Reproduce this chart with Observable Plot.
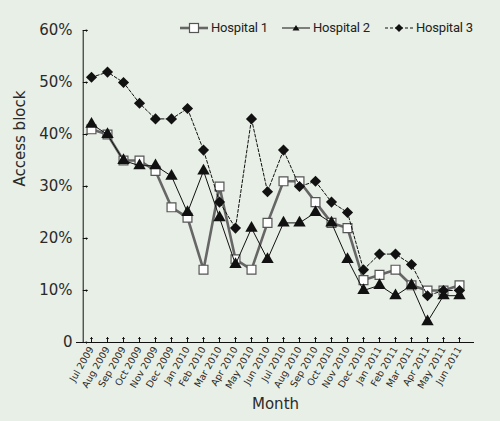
<!DOCTYPE html>
<html>
<head>
<meta charset="utf-8">
<script src="https://cdn.jsdelivr.net/npm/d3@7"></script>
<script src="https://cdn.jsdelivr.net/npm/@observablehq/plot@0.6"></script>
<style>
  html, body { margin: 0; padding: 0; background: #ffffff; }
  #wrap { position: relative; width: 500px; height: 421px; background: #e8efe6; overflow: hidden; }
  #legend { position: absolute; top: 20px; left: 0; width: 500px; height: 18px;
            font-family: "Roboto", sans-serif; font-size: 13px; color: #222; }
  #legend .item { position: absolute; top: 0; display: flex; align-items: center; white-space: nowrap; letter-spacing: -0.2px; }
  #legend svg { margin-right: 3px; }
</style>
</head>
<body>
<div id="wrap">
  <div id="chart"></div>
  <div id="legend"></div>
</div>
<script>
const months = ["Jul 2009","Aug 2009","Sep 2009","Oct 2009","Nov 2009","Dec 2009","Jan 2010","Feb 2010","Mar 2010","Apr 2010","May 2010","Jun 2010","Jul 2010","Aug 2010","Sep 2010","Oct 2010","Nov 2010","Dec 2010","Jan 2011","Feb 2011","Mar 2011","Apr 2011","May 2011","Jun 2011"];
const hospital1 = [41,40,35,35,33,26,24,14,30,16,14,23,31,31,27,23,22,12,13,14,11,10,10,11];
const hospital2 = [42,40,35,34,34,32,25,33,24,15,22,16,23,23,25,23,16,10,11,9,11,4,9,9];
const hospital3 = [51,52,50,46,43,43,45,37,27,22,43,29,37,30,31,27,25,14,17,17,15,9,10,10];
const yTicks = [0,10,20,30,40,50,60];
const seriesNames = ["Hospital 1","Hospital 2","Hospital 3"];

const rows = (vals, name) => months.map((m, i) => ({month: m, value: vals[i], series: name}));
const d1 = rows(hospital1, seriesNames[0]);
const d2 = rows(hospital2, seriesNames[1]);
const d3s = rows(hospital3, seriesNames[2]);

const font = "'DejaVu Sans', sans-serif";

const chart = Plot.plot({
  width: 500,
  height: 421,
  marginLeft: 76,
  marginRight: 26,
  marginTop: 30,
  marginBottom: 79,
  style: {background: "transparent", fontFamily: font, fontSize: "14px", color: "#2a2a2a"},
  x: {type: "point", domain: months, padding: 0.5},
  y: {domain: [0, 60]},
  marks: [
    Plot.axisY({ticks: yTicks, tickSize: 0, tickPadding: 4, tickFormat: d => d === 0 ? "0" : d + "%",
      fontSize: 15, label: null}),
    Plot.text(["Access block"], {frameAnchor: "left", rotate: -90, dx: -56, fontSize: 15, fill: "#2a2a2a"}),
    Plot.axisX({tickSize: 0, tickPadding: 5, tickRotate: -60, fontSize: 9.5, label: null}),
    Plot.text(["Month"], {frameAnchor: "bottom", dy: 66, fontSize: 15, fill: "#2a2a2a"}),
    Plot.ruleX([months[0]], {y1: 0, y2: 60, dx: -8.3, stroke: "#111"}),
    Plot.ruleY([0], {stroke: "#111"}),
    Plot.vector(yTicks, {x: () => months[0], y: d => d, rotate: 90, length: 4, anchor: "start", dx: -8.3, stroke: "#111", strokeWidth: 1}),
    Plot.vector(months, {x: d => d, y: () => 0, rotate: 0, length: 5, anchor: "start", stroke: "#111", strokeWidth: 1}),
    Plot.line(d1, {x: "month", y: "value", stroke: "#666", strokeWidth: 2.6}),
    Plot.dot(d1, {x: "month", y: "value", symbol: "square", r: 5, fill: "white", stroke: "#555", strokeWidth: 1.2}),
    Plot.line(d2, {x: "month", y: "value", stroke: "#111", strokeWidth: 1}),
    Plot.dot(d2, {x: "month", y: "value", symbol: "triangle", r: 4.6, fill: "#111", stroke: "none"}),
    Plot.line(d3s, {x: "month", y: "value", stroke: "#111", strokeWidth: 1, strokeDasharray: "3,2"}),
    Plot.dot(d3s, {x: "month", y: "value", symbol: "diamond2", r: 5, fill: "#111", stroke: "none"})
  ]
});
document.getElementById("chart").appendChild(chart);

// legend
const legend = d3.select("#legend");
const styles = [
  {line: "#666", w: 2.6, dash: null, sym: "square", left: 180},
  {line: "#111", w: 1, dash: null, sym: "triangle", left: 282},
  {line: "#111", w: 1, dash: "3,2", sym: "diamond", left: 385}
];
seriesNames.forEach((name, i) => {
  const st = styles[i];
  const it = legend.append("div").attr("class", "item").style("left", st.left + "px");
  const s = it.append("svg").attr("width", 28).attr("height", 14);
  s.append("line").attr("x1", 0).attr("x2", 28).attr("y1", 7).attr("y2", 7)
    .attr("stroke", st.line).attr("stroke-width", st.w).attr("stroke-dasharray", st.dash);
  if (st.sym === "square") s.append("rect").attr("x", 9.5).attr("y", 2.5).attr("width", 9).attr("height", 9).attr("fill", "white").attr("stroke", "#555").attr("stroke-width", 1.2);
  if (st.sym === "triangle") s.append("path").attr("d", "M14,4L17.5,9.5L10.5,9.5Z").attr("fill", "#111");
  if (st.sym === "diamond") s.append("path").attr("d", "M14,3L18,7L14,11L10,7Z").attr("fill", "#111");
  it.append("span").text(name);
});
</script>
</body>
</html>
